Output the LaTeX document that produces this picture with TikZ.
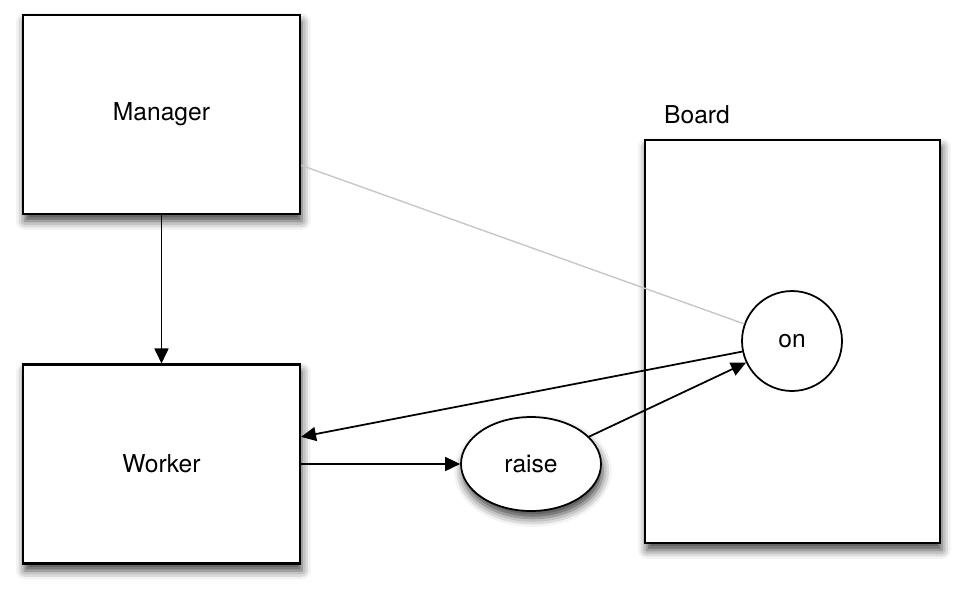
\documentclass[tikz,border=0pt]{standalone}
\usepackage{fontspec}
\setmainfont{TeX Gyre Heros}
\usetikzlibrary{arrows.meta,shapes.geometric,shadows.blur}

\begin{document}
\begin{tikzpicture}[x=0.02cm, y=-0.02cm,
  every node/.style={font=\fontsize{14}{17}\selectfont},
  shade/.style={blur shadow={shadow xshift=1pt, shadow yshift=-4pt, shadow blur radius=5pt, shadow opacity=75}},
  box/.style={draw, line width=1.2pt, fill=white, minimum width=5.54cm, minimum height=3.98cm, shade},
  conn/.style={line width=1pt, -{Triangle[length=3mm, width=2.8mm]}}]
\useasboundingbox (0,0) rectangle (962,595);

% the two boxes on the left
\node (manager) [box] at (161.5,114.5) {\raisebox{-2pt}{Manager}};
\node (worker) [box] at (161.5,464) {Worker};

% board with its label
\node (board) [box, minimum width=5.9cm, minimum height=8.06cm] at (792.5,341.5) {};
\node (boardlabel) [anchor=west] at (658,115) {Board};

\node (on) [draw, circle, line width=1pt, fill=white, minimum size=2cm] at (792,341) {on};
\node (raise) [draw, ellipse, line width=1pt, fill=white, minimum width=2.8cm, minimum height=1.88cm, shade] at (531,464) {raise};

\draw [conn] (manager) -- (worker);
\draw [black!22, line width=0.8pt] (manager.-20.4) -- (on);
\draw [conn] (on.192) -- (worker.11.8);
\draw [conn] (worker) -- (raise);
\draw [conn] (raise) -- (on);
\end{tikzpicture}
\end{document}
